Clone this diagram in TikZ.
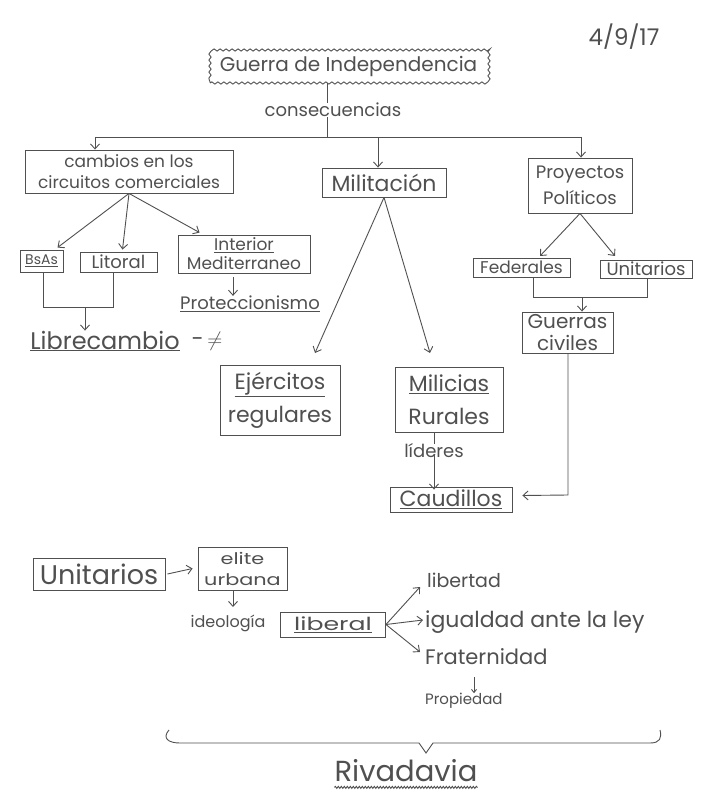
\documentclass[tikz,border=0pt]{standalone}
\usepackage{fontspec}
\usepackage{graphicx}
\setmainfont{Poppins}
\usetikzlibrary{arrows.meta,calc,decorations.pathmorphing}
\definecolor{pencil}{RGB}{80,80,80}
\newcommand\fsz[2]{\fontsize{#1}{#2}\selectfont}
\newcommand\hs[2]{\scalebox{#1}[1]{#2}}
\tikzset{
  pen/.style={draw=pencil, line width=0.9pt},
  box/.style={pen, rectangle, inner sep=0pt, align=center, text=pencil},
  lbl/.style={text=pencil, inner sep=0pt, align=center},
  arr/.style={pen, -{Straight Barb[length=5pt,width=9pt]}},
  wavy/.style={decorate, decoration={snake, amplitude=1.1pt, segment length=6pt}},
}
\begin{document}
\begin{tikzpicture}[x=1pt,y=-1pt]
\useasboundingbox[fill=white] (0,0) rectangle (701,791);

% top
\node[lbl, font=\fsz{23}{27}] (date) at (624,37) {4/9/17};
\node[box, wavy, minimum width=277pt, minimum height=33pt, font=\fsz{20}{24}] (guerra) at (348.5,66.5) {Guerra de Independencia};
\node[lbl, font=\fsz{18}{22}] (cons) at (333,110) {consecuencias};
\coordinate (c1) at (327,137);
\coordinate (hl) at (95,137);
\coordinate (hm) at (378,137);
\coordinate (hr) at (581,137);
\draw[pen] (c1 |- guerra.south) -- (c1 |- cons.north);
\draw[pen] (c1 |- cons.south) -- (c1);
\draw[pen] (hl) -- (hr);

% level 1
\node[box, minimum width=208pt, minimum height=43pt, font=\fsz{17}{21}] (cambios) at (129,171.5) {cambios en los\\circuitos comerciales};
\node[box, minimum width=124pt, minimum height=29pt, font=\fsz{22}{24}] (milit) at (384,182.5) {Militación};
\node[box, minimum width=104pt, minimum height=55pt, font=\fsz{18}{26}] (proy) at (580,185.5) {Proyectos\\Políticos};
\draw[arr] (hl) -- (hl |- cambios.north);
\draw[arr] (hm) -- (hm |- milit.north);
\draw[arr] (hr) -- (hr |- proy.north);

% left branch
\node[box, minimum width=43pt, minimum height=22pt, font=\fsz{14}{17}] (bsas) at (41.5,261) {\underline{BsAs}};
\node[box, minimum width=77pt, minimum height=20pt, font=\fsz{18}{20}] (litoral) at (118.5,262) {Litoral};
\node[box, minimum width=132pt, minimum height=38pt, font=\fsz{17}{19}] (interior) at (244,254) {\underline{Interior}\\Mediterraneo};
\draw[arr] (cambios.south) -- ($(bsas.north)+(16,-2)$);
\draw[arr] (cambios.south) -- ($(litoral.north)+(4,-2)$);
\draw[arr] (cambios.south) -- ($(interior.north west)+(22,-2)$);
\node[lbl, font=\fsz{18}{21}] (protec) at (250,304) {\underline{Proteccionismo}};
\coordinate (i1) at (233,277);
\draw[arr] (i1) -- (i1 |- protec.north);
\node[lbl, font=\fsz{24}{27}] (libre) at (105,341) {\underline{Librecambio}};
\node[lbl, font=\fsz{22}{26}] (neq) at (207,341) {-\,$\neq$};
\coordinate (j1) at (43,307);
\coordinate (j2) at (113,307);
\coordinate (j3) at (85,307);
\draw[pen] (bsas.south -| j1) -- (j1) -- (j2) -- (litoral.south -| j2);
\draw[arr] (j3) -- (j3 |- libre.north);

% middle branch
\node[box, minimum width=120pt, minimum height=70pt, font=\fsz{22}{33}] (ejer) at (280,400) {\underline{Ejércitos}\\regulares};
\node[box, minimum width=108pt, minimum height=65pt, font=\fsz{22}{33}] (milic) at (449,399.5) {\underline{Milicias}\\Rurales};
\coordinate (e1) at (315,353);
\coordinate (m1) at (430,353);
\draw[arr] (milit.south) -- (e1);
\draw[arr] (milit.south) -- (m1);
\node[lbl, font=\fsz{18}{21}] (lid) at (434,451) {líderes};
\node[box, minimum width=122pt, minimum height=25pt, font=\fsz{22}{25}] (caud) at (451,499.5) {\underline{Caudillos}};
\draw[pen] (lid.north |- milic.south) -- (lid.north);
\draw[arr] ([yshift=4pt]lid.south) -- ([yshift=-3pt]lid.south |- caud.north);

% right branch
\node[box, minimum width=97pt, minimum height=19pt, font=\fsz{17}{19}] (fed) at (521.5,267.5) {Federales};
\node[box, minimum width=92pt, minimum height=18pt, font=\fsz{18}{20}] (unit) at (646,269) {Unitarios};
\coordinate (f1) at (540,256);
\coordinate (u1) at (615,256);
\draw[arr] (proy.south) -- (f1);
\draw[arr] (proy.south) -- (u1);
\node[box, minimum width=91pt, minimum height=41pt, font=\fsz{20}{22}] (guerras) at (567.5,332.5) {Guerras\\civiles};
\coordinate (k1) at (533,297);
\coordinate (k2) at (647,297);
\coordinate (k3) at (582,297);
\draw[pen] (fed.south -| k1) -- (k1) -- (k2) -- (unit.south -| k2);
\draw[arr] (k3) -- (k3 |- guerras.north);
\coordinate (gc) at (568,495);
\draw[arr] (guerras.south -| gc) -- (gc) -- ($(caud.east)+(10,-4)$);

% bottom
\node[box, minimum width=132pt, minimum height=32pt, font=\fsz{27}{30}] (unit2) at (99,574) {Unitarios};
\node[box, minimum width=89pt, minimum height=43pt, font=\fsz{16}{21}] (elite) at (242.5,568.5) {\hs{1.3}{elite}\\\hs{1.3}{urbana}};
\draw[arr] ([xshift=2pt]unit2.east) -- ([xshift=-5pt]elite.west);
\coordinate (el1) at (233,607);
\draw[arr] (el1 |- elite.south) -- (el1);
\node[lbl, font=\fsz{16}{19}] (ideo) at (228,623) {ideología};
\node[box, minimum width=105pt, minimum height=25pt, font=\fsz{18}{21}] (liberal) at (333,624.5) {\hs{1.4}{\underline{liberal}}};
\node[lbl, anchor=west, font=\fsz{19}{22}] (libertad) at (427,580) {libertad};
\node[lbl, anchor=west, font=\fsz{22}{25}] (igual) at (425,622) {igualdad ante la ley};
\node[lbl, anchor=west, font=\fsz{21}{24}] (frat) at (425,657) {Fraternidad};
\node[lbl, anchor=west, font=\fsz{15}{18}] (prop) at (425,701) {Propiedad};
\draw[arr] (liberal.east) -- ($(libertad.west)+(-7,7)$);
\draw[arr] (liberal.east) -- ($(igual.west)+(-2,-2)$);
\draw[arr] (liberal.east) -- ($(frat.west)+(-5,-5)$);
\coordinate (p1) at (474,677);
\draw[pen, -{Straight Barb[length=3pt,width=5pt]}] (p1) -- (p1 |- prop.north);
\coordinate (b1) at (169,730);
\coordinate (b2) at (660,730);
\draw[pen] (b1) .. controls (162,738) and (168,743) .. (180,743) -- (419,743) -- (426,753) -- (433,743) -- (650,743) .. controls (660,743) and (662,738) .. (b2);
\node[lbl, font=\fsz{29}{32}] (riv) at (406,771) {Rivadavia};
\draw[pen, wavy, decoration={amplitude=1pt, segment length=3pt}] ($(riv.south west)+(0,5)$) -- ($(riv.south east)+(0,5)$);
\end{tikzpicture}
\end{document}
